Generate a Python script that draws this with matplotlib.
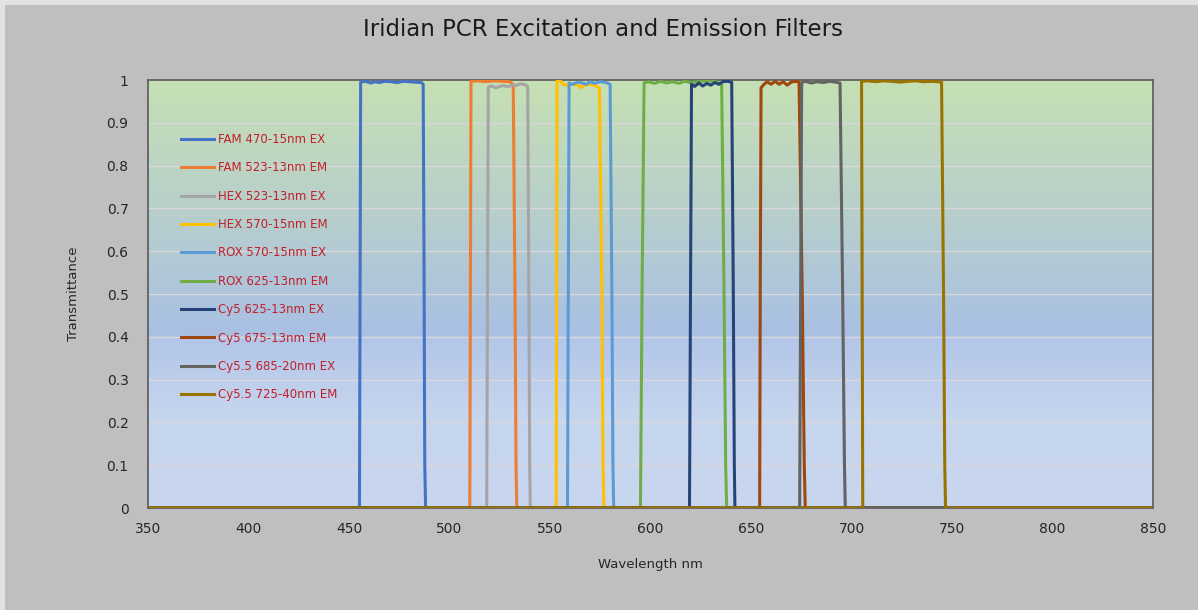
import numpy as np
import matplotlib
matplotlib.use('Agg')
from matplotlib import pyplot as plt
from matplotlib.colors import LinearSegmentedColormap
from matplotlib.patches import Rectangle

# filter names and colours (Office palette)
names = ['FAM 470-15nm EX', 'FAM 523-13nm EM', 'HEX 523-13nm EX', 'HEX 570-15nm EM',
         'ROX 570-15nm EX', 'ROX 625-13nm EM', 'Cy5 625-13nm EX', 'Cy5 675-13nm EM',
         'Cy5.5 685-20nm EX', 'Cy5.5 725-40nm EM']
colors = ['#4472C4', '#ED7D31', '#A5A5A5', '#FFC000', '#5B9BD5',
          '#70AD47', '#264478', '#9E480E', '#636363', '#997300']

# transmission curves (wavelength nm, transmittance)
fam_ex_wl = [350, 455.2, 455.5, 455.8, 458, 461, 463, 465, 468, 471, 474, 477, 480, 483, 486, 486.9, 487.3, 487.7, 488.1, 850]
fam_ex_t = [0, 0, 0.5, 0.995, 0.997, 0.993, 0.996, 0.994, 0.997, 0.996, 0.994, 0.997, 0.996, 0.995, 0.994, 0.99, 0.6, 0.1, 0, 0]

fam_em_wl = [350, 510.1, 510.4, 510.7, 514, 518, 522, 526, 530, 531.7, 532.6, 533.1, 533.5, 850]
fam_em_t = [0, 0, 0.5, 0.997, 0.998, 0.996, 0.998, 0.997, 0.996, 0.99, 0.5, 0.1, 0, 0]

hex_ex_wl = [350, 518.5, 518.9, 519.3, 521, 523, 525, 527, 529, 531, 533, 535, 537, 538.9, 539.5, 539.9, 540.2, 850]
hex_ex_t = [0, 0, 0.5, 0.983, 0.986, 0.982, 0.985, 0.987, 0.984, 0.988, 0.987, 0.991, 0.99, 0.985, 0.5, 0.1, 0, 0]

hex_em_wl = [350, 553.1, 553.3, 553.5, 555, 556.5, 558, 561, 564, 565.5, 567, 570, 573, 574.6, 575.8, 576.4, 576.8, 850]
hex_em_t = [0, 0, 0.5, 0.998, 0.999, 0.99, 0.988, 0.99, 0.988, 0.982, 0.988, 0.99, 0.986, 0.98, 0.5, 0.1, 0, 0]

rox_ex_wl = [350, 558.7, 559.1, 559.5, 561, 564, 566, 568, 570, 572, 575, 578, 579.9, 580.8, 581.3, 581.7, 850]
rox_ex_t = [0, 0, 0.5, 0.993, 0.99, 0.995, 0.993, 0.99, 0.996, 0.992, 0.996, 0.994, 0.99, 0.5, 0.1, 0, 0]

rox_em_wl = [350, 595.0, 595.8, 596.8, 599, 602, 605, 608, 611, 614, 617, 620, 624, 628, 632, 635.4, 636.6, 637.4, 637.9, 850]
rox_em_t = [0, 0, 0.5, 0.993, 0.996, 0.992, 0.997, 0.993, 0.996, 0.992, 0.997, 0.994, 0.996, 0.998, 0.997, 0.99, 0.5, 0.1, 0, 0]

cy5_ex_wl = [350, 619.4, 619.9, 620.4, 622, 624, 626, 628, 630, 632, 634, 636, 638, 640.4, 641.2, 641.7, 642.0, 850]
cy5_ex_t = [0, 0, 0.5, 0.99, 0.985, 0.993, 0.986, 0.992, 0.988, 0.994, 0.99, 0.996, 0.997, 0.995, 0.5, 0.1, 0, 0]

cy5_em_wl = [350, 654.3, 654.6, 655.0, 656.5, 658, 660, 662, 664, 666, 668, 670, 672, 673.9, 675.5, 676.5, 677.0, 850]
cy5_em_t = [0, 0, 0.5, 0.982, 0.99, 0.996, 0.99, 0.997, 0.99, 0.996, 0.988, 0.995, 0.997, 0.995, 0.5, 0.1, 0, 0]

cy55_ex_wl = [350, 674.2, 674.7, 675.2, 677, 680, 683, 686, 689, 692, 694.3, 695.6, 696.5, 696.9, 850]
cy55_ex_t = [0, 0, 0.5, 0.994, 0.997, 0.993, 0.996, 0.994, 0.997, 0.995, 0.993, 0.5, 0.1, 0, 0]

cy55_em_wl = [350, 705.6, 705.3, 705.0, 708, 712, 716, 720, 724, 728, 732, 736, 740, 744.8, 745.8, 746.4, 746.8, 850]
cy55_em_t = [0, 0, 0.5, 0.997, 0.998, 0.996, 0.998, 0.997, 0.995, 0.997, 0.998, 0.996, 0.997, 0.995, 0.5, 0.1, 0, 0]

curves = [(fam_ex_wl, fam_ex_t), (fam_em_wl, fam_em_t), (hex_ex_wl, hex_ex_t),
          (hex_em_wl, hex_em_t), (rox_ex_wl, rox_ex_t), (rox_em_wl, rox_em_t),
          (cy5_ex_wl, cy5_ex_t), (cy5_em_wl, cy5_em_t), (cy55_ex_wl, cy55_ex_t),
          (cy55_em_wl, cy55_em_t)]

xticks = [350, 400, 450, 500, 550, 600, 650, 700, 750, 800, 850]
yticks = [0, 0.1, 0.2, 0.3, 0.4, 0.5, 0.6, 0.7, 0.8, 0.9, 1]
ytick_labels = ['0', '0.1', '0.2', '0.3', '0.4', '0.5', '0.6', '0.7', '0.8', '0.9', '1']

plt.rcParams['font.family'] = ['DejaVu Sans']

fig = plt.figure(figsize=(11.98, 6.10), dpi=100, facecolor='#e1e2e4')
fig.patches.append(Rectangle((5 / 1198, 0), 1, 1 - 5 / 610, transform=fig.transFigure,
                             fc='#bfbfbf', ec='none', zorder=-10))
ax = fig.add_axes([148 / 1198, 1 - 508 / 610, 1005 / 1198, 428 / 610])

# gradient plot area: green on top, blue in the lower part
cmap = LinearSegmentedColormap.from_list('bg', [
    (0.0, '#c8d6ee'), (0.22, '#c6d5ee'), (0.395, '#b3c6e8'),
    (0.405, '#a9c0e4'), (0.7, '#b8cfcb'), (1.0, '#c6e0b4')])
grad = np.linspace(0, 1, 400).reshape(-1, 1)
ax.imshow(grad, cmap=cmap, aspect='auto', origin='lower',
          extent=[350, 850, 0, 1], zorder=0, interpolation='bilinear')

for yv in yticks[1:-1]:
    ax.axhline(yv, color='#d9d9d9', lw=1, zorder=1)

for (wl, t), name, c in zip(curves, names, colors):
    ax.plot(wl, t, color=c, lw=2.2, label=name, zorder=3, solid_joinstyle='round')

ax.set_xlim(350, 850)
ax.set_ylim(0, 1)
ax.set_xticks(xticks)
ax.set_yticks(yticks)
ax.set_yticklabels(ytick_labels)
ax.tick_params(length=0, labelsize=10, labelcolor='#262626')
ax.tick_params(axis='y', pad=14)
ax.tick_params(axis='x', pad=10)
for sp in ax.spines.values():
    sp.set_color('#595959')
    sp.set_linewidth(1.2)

ax.set_xlabel('Wavelength nm', fontsize=9.5, color='#262626', labelpad=16)
ax.set_ylabel('Transmittance', fontsize=9.5, color='#262626', labelpad=19)
fig.text(0.503, 0.951, 'Iridian PCR Excitation and Emission Filters', ha='center', va='center',
         fontsize=16.5, color='#1a1a1a')

leg = ax.legend(loc='upper left', bbox_to_anchor=(0.033, 0.876), frameon=False,
                fontsize=8.5, handlelength=2.8, handletextpad=0.3, labelspacing=1.30,
                borderpad=0, borderaxespad=0)
for txt in leg.get_texts():
    txt.set_color('#c0202a')

fig.savefig('out.png', dpi=100, facecolor=fig.get_facecolor())
